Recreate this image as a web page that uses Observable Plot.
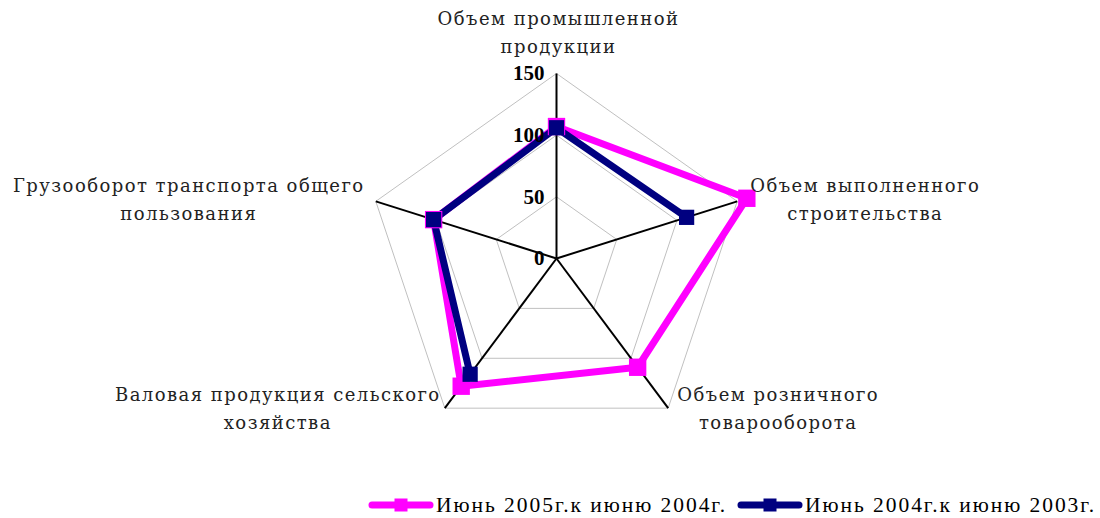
<!DOCTYPE html>
<html><head><meta charset="utf-8">
<script src="https://cdn.jsdelivr.net/npm/d3@7"></script>
<script src="https://cdn.jsdelivr.net/npm/@observablehq/plot@0.6"></script>
<style>
html,body{margin:0;padding:0;background:#fff;}
#wrap{position:relative;width:1100px;height:518px;overflow:hidden;}
#legend{position:absolute;left:0;top:491px;width:1100px;height:28px;display:flex;justify-content:flex-end;align-items:center;font-family:"Liberation Serif",serif;font-size:21.5px;letter-spacing:1.95px;color:#000;white-space:nowrap;}
#legend .item{display:flex;align-items:center;margin-left:10px;}
#legend .item:last-child{margin-right:4px;}
#legend svg{display:block;margin-right:2px;}
</style>
</head><body>
<div id="wrap"><div id="chart"></div><div id="legend"></div></div>
<script>
const categories = [
  "Объем промышленной\nпродукции",
  "Объем выполненного\nстроительства",
  "Объем розничного\nтоварооборота",
  "Валовая продукция сельского\nхозяйства",
  "Грузооборот транспорта общего\nпользования"
];
const seriesNames = ["Июнь 2005г.к июню 2004г.", "Июнь 2004г.к июню 2003г."];
const series2005 = [107, 158, 109, 128, 102];
const series2004 = [106, 108, null, 116, 102];
const ticks = [0, 50, 100, 150];
const colors = ["#FF00FF", "#000080"];

const maxV = 150;
const n = categories.length;
const ang = i => (90 - 360 / n * i) * Math.PI / 180;
const pt = (i, v) => (v == null ? {x: NaN, y: NaN} : {x: v * Math.cos(ang(i)), y: v * Math.sin(ang(i))});

// grid rings
const rings = [];
ticks.filter(t => t > 0).forEach(t => {
  for (let i = 0; i <= n; i++) rings.push({ring: t, ...pt(i % n, t)});
});
// spokes
const spokes = categories.map((c, i) => ({x1: 0, y1: 0, x2: pt(i, maxV).x, y2: pt(i, maxV).y}));
// series paths
const path = vals => { const a = vals.map((v, i) => pt(i, v)); a.push(pt(0, vals[0])); return a; };
const dotsOf = vals => vals.map((v, i) => pt(i, v)).filter(d => !isNaN(d.x));

// label offsets (pixels) relative to each axis end
const labelOffsets = [[2, -43], [128, -4], [110, -2], [-167, -2], [-187, -4]];
const labels = categories.map((c, i) => ({...pt(i, maxV), text: c, dx: labelOffsets[i][0], dy: labelOffsets[i][1]}));

const cx = 556, cy = 258, rx = 190, ry = 185, W = 1100, H = 518;
const xDom = [(0 - cx) * maxV / rx, (W - cx) * maxV / rx];
const yDom = [-(H - cy) * maxV / ry, cy * maxV / ry];

const plot = Plot.plot({
  width: W, height: H,
  margin: 0,
  x: {domain: xDom, axis: null},
  y: {domain: yDom, axis: null},
  marks: [
    Plot.line(rings, {x: "x", y: "y", z: "ring", stroke: "#C0C0C0", strokeWidth: 1}),
    Plot.link(spokes, {x1: "x1", y1: "y1", x2: "x2", y2: "y2", stroke: "#000", strokeWidth: 2}),
    Plot.line(path(series2005), {x: "x", y: "y", stroke: colors[0], strokeWidth: 7, strokeLinejoin: "round"}),
    Plot.line(path(series2004), {x: "x", y: "y", stroke: colors[1], strokeWidth: 7, strokeLinejoin: "round"}),
    Plot.dot(dotsOf(series2005), {x: "x", y: "y", symbol: "square", r: 9.8, fill: colors[0], stroke: "none"}),
    Plot.dot(dotsOf(series2004), {x: "x", y: "y", symbol: "square", r: 8.6, fill: colors[1], stroke: "none"}),
    Plot.text(ticks, {x: () => 0, y: d => d, text: d => String(d), textAnchor: "end", dx: -12, fontSize: 21, fontWeight: "bold", fontFamily: "Liberation Serif", fill: "#000"}),
    ...labels.map(l => Plot.text([l], {x: "x", y: "y", text: "text", dx: l.dx, dy: l.dy, textAnchor: "middle", lineAnchor: "middle", lineHeight: 1.55, fontSize: 18, fontFamily: "DejaVu Serif", fill: "#222"}))
  ]
});
// widen category labels (letter spacing) like the original
d3.select(plot).selectAll("g[font-family='DejaVu Serif']").attr("letter-spacing", "1.45px");
document.getElementById("chart").appendChild(plot);

// legend
const leg = document.getElementById("legend");
seriesNames.forEach((name, i) => {
  const item = document.createElement("div");
  item.className = "item";
  item.innerHTML = `<svg width="66" height="20"><line x1="4" y1="10" x2="62" y2="10" stroke="${colors[i]}" stroke-width="7" stroke-linecap="round"/><rect x="26.5" y="3.5" width="13" height="13" fill="${colors[i]}"/></svg><span>${name}</span>`;
  leg.appendChild(item);
});
</script>
</body></html>
